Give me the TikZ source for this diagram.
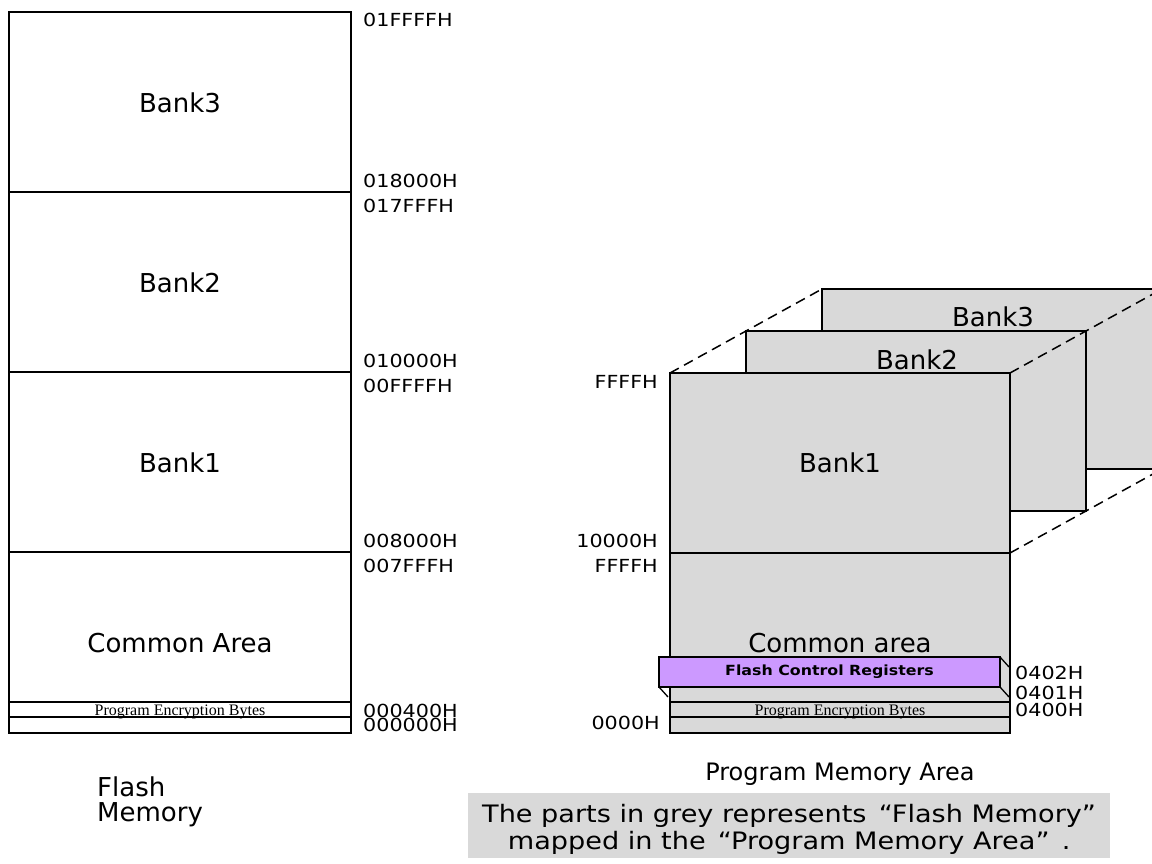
\documentclass[tikz,border=0pt]{standalone}
\usepackage{fontspec}
\setmainfont{DejaVu Sans}
\newfontfamily\pebfont{Liberation Serif}
\usepackage{graphicx}
\definecolor{memgrey}{RGB}{217,217,217}
\definecolor{fcrcol}{RGB}{204,153,255}
\newcommand{\ad}[1]{\scalebox{1.15}[1]{#1}}
\newcommand{\cw}[1]{\scalebox{1.13}[1]{#1}}
\pgfdeclarelayer{bg}
\pgfsetlayers{bg,main}
\begin{document}
\begin{tikzpicture}[x=1pt,y=-1pt,
  banklbl/.style={font=\fontsize{26}{30}\selectfont, inner sep=0pt},
  addrlbl/.style={font=\fontsize{18}{20}\selectfont, inner sep=0pt},
  caplbl/.style={font=\fontsize{24}{28}\selectfont, inner sep=0pt},
  peblbl/.style={font=\pebfont\fontsize{16}{17}\selectfont, inner sep=0pt, anchor=base},
  wbox/.style={draw, line width=1.4pt},
  gbox/.style={draw, fill=memgrey, line width=1.8pt},
  dsh/.style={dash pattern=on 10pt off 6pt, line width=1.5pt},
]
\useasboundingbox (0,0) rectangle (1152,864);

% ---------------- Left column: Flash Memory ----------------
\draw[wbox] (9,12) rectangle (351,733);
\draw[wbox] (9,192) -- (351,192);
\draw[wbox] (9,372) -- (351,372);
\draw[wbox] (9,552) -- (351,552);
\draw[wbox] (9,702) -- (351,702);
\draw[wbox] (9,717) -- (351,717);

\node[banklbl] (lb3) at (180,103) {Bank3};
\node[banklbl] (lb2) at (180,283) {Bank2};
\node[banklbl] (lb1) at (180,463) {Bank1};
\node[banklbl] (lbc) at (180,643) {Common Area};
\node[peblbl] (lpeb) at (180,715.5) {Program Encryption Bytes};

\node[addrlbl, anchor=west] (a1) at (363,20) {\ad{01FFFFH}};
\node[addrlbl, anchor=west] (a2) at (363,181) {\ad{018000H}};
\node[addrlbl, anchor=west] (a3) at (363,206) {\ad{017FFFH}};
\node[addrlbl, anchor=west] (a4) at (363,361) {\ad{010000H}};
\node[addrlbl, anchor=west] (a5) at (363,386) {\ad{00FFFFH}};
\node[addrlbl, anchor=west] (a6) at (363,541) {\ad{008000H}};
\node[addrlbl, anchor=west] (a7) at (363,566) {\ad{007FFFH}};
\node[addrlbl, anchor=west] (a8) at (363,711) {\ad{000400H}};
\node[addrlbl, anchor=west] (a9) at (363,725) {\ad{000000H}};

\node[banklbl, anchor=base west] (fm1) at (97,796) {Flash};
\node[banklbl, anchor=base west] (fm2) at (97,821) {Memory};

% ---------------- Right: Program Memory Area ----------------
\coordinate (b1tl) at (670,373);
\coordinate (b1tr) at (1010,373);
\coordinate (b1br) at (1010,553);
\coordinate (b2tl) at (746,331);
\coordinate (b2tr) at (1086,331);
\coordinate (b2br) at (1086,511);
\coordinate (b3tl) at (822,289);
\coordinate (b3tr) at (1162,289);
\coordinate (b3br) at (1162,469);

\begin{scope}
  \clip (0,0) rectangle (1152,864);
  \draw[gbox] (822,289) rectangle (1165,469);
  \node[banklbl] (rb3) at (993,317) {Bank3};
  \draw[gbox] (746,331) rectangle (1086,511);
  \node[banklbl] (rb2) at (917,360) {Bank2};
  \draw[dsh] (b1tl) -- (b2tl) -- (b3tl);
  \draw[dsh] (b1tr) -- (b2tr) -- (b3tr);
  \draw[dsh] (b1br) -- (b2br) -- (b3br);
\end{scope}

\draw[gbox] (670,373) rectangle (1010,733);
\draw[gbox] (670,553) -- (1010,553);
\draw[gbox] (670,702) -- (1010,702);
\draw[gbox] (670,717) -- (1010,717);

\node[banklbl] (rb1) at (840,463) {Bank1};
\node[banklbl] (rbc) at (840,643) {Common area};

% Flash Control Registers (raised box)
\draw[line width=1.3pt] (1000,657) -- (1009,667);
\draw[line width=1.3pt] (1000,687) -- (1009,697);
\draw[line width=1.3pt] (659,687) -- (668,697);
\node[draw, fill=fcrcol, line width=1.5pt, minimum width=341pt, minimum height=30pt,
      inner sep=0pt, font=\bfseries\fontsize{14}{16}\selectfont] (fcr) at (829.5,672) {\cw{Flash Control Registers}};

\node[peblbl] (rpeb) at (840,715.5) {Program Encryption Bytes};

\node[addrlbl, anchor=east] (r1) at (658,382) {\ad{FFFFH}};
\node[addrlbl, anchor=east] (r2) at (658,541) {\ad{10000H}};
\node[addrlbl, anchor=east] (r3) at (658,566) {\ad{FFFFH}};
\node[addrlbl, anchor=east] (r4) at (660,723) {\ad{0000H}};
\node[addrlbl, anchor=west] (r5) at (1015,673) {\ad{0402H}};
\node[addrlbl, anchor=west] (r6) at (1015,693) {\ad{0401H}};
\node[addrlbl, anchor=west] (r7) at (1015,710) {\ad{0400H}};

\node[caplbl] (pma) at (840,774) {Program Memory Area};

% caption box
\node[caplbl, anchor=base west] (c1) at (482,822) {\cw{The parts in grey represents\hspace{0.45em}“Flash Memory”}};
\node[caplbl, anchor=base] (c2) at ([yshift=-27pt]c1.base) {\cw{mapped in the\hspace{0.45em}“Program Memory Area”\hspace{0.45em}.}};
\begin{pgfonlayer}{bg}
  \fill[memgrey] (468,793) rectangle ([xshift=14pt]c1.east |- 0,858);
\end{pgfonlayer}
\end{tikzpicture}
\end{document}
